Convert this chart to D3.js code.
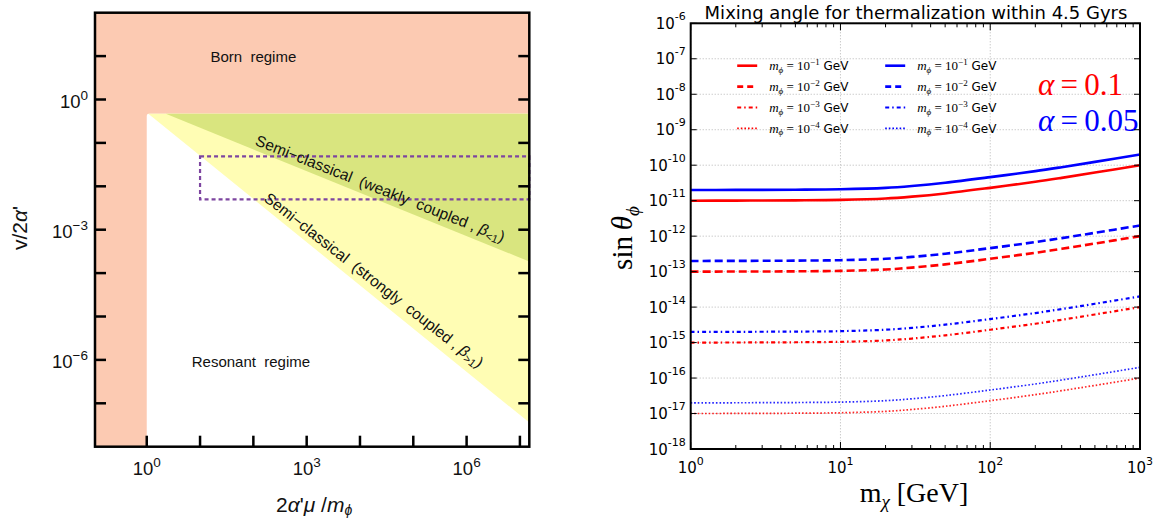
<!DOCTYPE html>
<html>
<head>
<meta charset="utf-8">
<script src="https://cdn.jsdelivr.net/npm/d3@7"></script>
<style>
body { margin: 0; background: #fff; }
text { white-space: pre; }
</style>
</head>
<body>
<svg id="fig" width="1156" height="519"></svg>
<script>
// ---- left panel: regime map ----
var regXDomain = [0.107, 1.5e7];
var regYDomain = [1e-8, 1e2];
var regXTicks = [1, 10, 100, 1e3, 1e4, 1e5, 1e6, 1e7];
var regXLabels = [[1, "0"], [1e3, "3"], [1e6, "6"]];
var regYTicks = [10, 1, 1e-1, 1e-2, 1e-3, 1e-4, 1e-5, 1e-6, 1e-7];
var regYLabels = [[1, "0"], [1e-3, "\u22123"], [1e-6, "\u22126"]];
var bornEdgeX = 1;
var bornEdgeY = 0.468;
var strongEdge = [[1.07, 0.468], [1.5e7, 3.6e-8]];  // beta = 1
var weakEdge = [[2.28, 0.468], [1.5e7, 1.85e-4]];
var boxX = [10, 1.5e7];
var boxY = [0.005, 0.049];
var regNames = [["Born  regime", 100, 9.5], ["Resonant  regime", 90, 9.2e-7]];

// ---- right panel: mixing angle ----
var mChi = [1, 2, 3, 5, 10, 20, 30, 50, 100, 200, 300, 500, 1000];
var mixXTicks = [1, 10, 100, 1000];
var mixYExp = [-6, -7, -8, -9, -10, -11, -12, -13, -14, -15, -16, -17, -18];
var red1 = [1.0e-11, 1.005e-11, 1.01e-11, 1.02e-11, 1.05e-11, 1.15e-11, 1.3e-11, 1.6e-11, 2.3e-11, 3.4e-11, 4.4e-11, 6.2e-11, 1.0e-10];
var red2 = [1.0e-13, 1.005e-13, 1.01e-13, 1.02e-13, 1.05e-13, 1.15e-13, 1.3e-13, 1.6e-13, 2.3e-13, 3.4e-13, 4.4e-13, 6.2e-13, 1.0e-12];
var red3 = [1.0e-15, 1.005e-15, 1.01e-15, 1.02e-15, 1.05e-15, 1.15e-15, 1.3e-15, 1.6e-15, 2.3e-15, 3.4e-15, 4.4e-15, 6.2e-15, 1.0e-14];
var red4 = [1.0e-17, 1.005e-17, 1.01e-17, 1.02e-17, 1.05e-17, 1.15e-17, 1.3e-17, 1.6e-17, 2.3e-17, 3.4e-17, 4.4e-17, 6.2e-17, 1.0e-16];
var blue1 = [2.0e-11, 2.01e-11, 2.02e-11, 2.04e-11, 2.1e-11, 2.3e-11, 2.6e-11, 3.2e-11, 4.6e-11, 6.8e-11, 8.8e-11, 1.24e-10, 2.0e-10];
var blue2 = [2.0e-13, 2.01e-13, 2.02e-13, 2.04e-13, 2.1e-13, 2.3e-13, 2.6e-13, 3.2e-13, 4.6e-13, 6.8e-13, 8.8e-13, 1.24e-12, 2.0e-12];
var blue3 = [2.0e-15, 2.01e-15, 2.02e-15, 2.04e-15, 2.1e-15, 2.3e-15, 2.6e-15, 3.2e-15, 4.6e-15, 6.8e-15, 8.8e-15, 1.24e-14, 2.0e-14];
var blue4 = [2.0e-17, 2.01e-17, 2.02e-17, 2.04e-17, 2.1e-17, 2.3e-17, 2.6e-17, 3.2e-17, 4.6e-17, 6.8e-17, 8.8e-17, 1.24e-16, 2.0e-16];
var mphiExp = ["\u22121", "\u22122", "\u22123", "\u22124"];
var alphas = ["0.1", "0.05"];

var svg = d3.select("#fig");

//==== left panel
var L = {left: 95, right: 529.3, top: 12.7, bottom: 446.7};
var xL = d3.scaleLog().domain(regXDomain).range([L.left, L.right]);
var yL = d3.scaleLog().domain(regYDomain).range([L.bottom, L.top]);
var gL = svg.append("g").attr("font-family", "'Liberation Sans', Arial, sans-serif").attr("fill", "#111");

gL.append("rect")
    .attr("x", L.left).attr("y", L.top)
    .attr("width", L.right - L.left).attr("height", L.bottom - L.top)
    .attr("fill", "#fccab2");
gL.append("rect")
    .attr("x", xL(bornEdgeX)).attr("y", yL(bornEdgeY))
    .attr("width", L.right - xL(bornEdgeX)).attr("height", L.bottom - yL(bornEdgeY))
    .attr("rx", 2).attr("fill", "#fff");

function wedge(edge) {
    var pts = [edge[0], edge[1], [regXDomain[1], bornEdgeY]];
    return pts.map(function(p) { return xL(p[0]) + "," + yL(p[1]); }).join(" ");
}
gL.append("polygon").attr("points", wedge(strongEdge)).attr("fill", "#fffdb4");
gL.append("polygon").attr("points", wedge(weakEdge)).attr("fill", "#d9e57f");

gL.append("rect")
    .attr("x", xL(boxX[0])).attr("y", yL(boxY[1]))
    .attr("width", xL(boxX[1]) - xL(boxX[0])).attr("height", yL(boxY[0]) - yL(boxY[1]))
    .attr("fill", "none").attr("stroke", "#7d45a0")
    .attr("stroke-width", 2.2).attr("stroke-dasharray", "4,3");

regNames.forEach(function(d) {
    gL.append("text")
        .attr("x", xL(d[1])).attr("y", yL(d[2]))
        .attr("text-anchor", "middle").attr("dy", "0.35em")
        .attr("font-size", 15)
        .text(d[0]);
});

// label running along a boundary
function edgeLabel(edge, atX, off, rot, words, sign) {
    var a = [xL(edge[0][0]), yL(edge[0][1])], b = [xL(edge[1][0]), yL(edge[1][1])];
    var px = xL(atX);
    var py = a[1] + (px - a[0]) / (b[0] - a[0]) * (b[1] - a[1]);
    var ang = Math.atan2(b[1] - a[1], b[0] - a[0]) * 180 / Math.PI + rot;
    var t = gL.append("text")
        .attr("transform", "translate(" + px + "," + py + ") rotate(" + ang + ")")
        .attr("y", off).attr("text-anchor", "middle").attr("font-size", 15.5);
    t.append("tspan").text(words);
    t.append("tspan").attr("font-style", "italic").text("\u03b2");
    t.append("tspan").attr("font-size", 11).attr("dy", 3).text(sign);
    t.append("tspan").attr("dy", -3).text(")");
}
edgeLabel(weakEdge, 2.0e4, -6, -0.6, "Semi\u2212classical  (weakly  coupled , ", "<1");
edgeLabel(strongEdge, 1.3e4, -7.5, -1, "Semi\u2212classical  (strongly  coupled , ", ">1");

gL.append("rect")
    .attr("x", L.left).attr("y", L.top)
    .attr("width", L.right - L.left).attr("height", L.bottom - L.top)
    .attr("fill", "none").attr("stroke", "#000").attr("stroke-width", 2.5);

var tk = gL.append("g").attr("stroke", "#000").attr("stroke-width", 2.5);
tk.selectAll(".xt").data(regXTicks).enter().append("line")
    .attr("x1", function(d) { return xL(d); }).attr("x2", function(d) { return xL(d); })
    .attr("y1", L.bottom).attr("y2", L.bottom - 11);
tk.selectAll(".yl").data(regYTicks).enter().append("line")
    .attr("x1", L.left).attr("x2", L.left + 11)
    .attr("y1", function(d) { return yL(d); }).attr("y2", function(d) { return yL(d); });
tk.selectAll(".yr").data(regYTicks).enter().append("line")
    .attr("x1", L.right).attr("x2", L.right - 11)
    .attr("y1", function(d) { return yL(d); }).attr("y2", function(d) { return yL(d); });

regXLabels.forEach(function(d) {
    var t = gL.append("text").attr("x", xL(d[0])).attr("y", L.bottom + 28.5)
        .attr("text-anchor", "middle").attr("font-size", 18.5);
    t.append("tspan").text("10");
    t.append("tspan").attr("dy", -8.5).attr("font-size", 13.5).text(d[1]);
});
regYLabels.forEach(function(d) {
    var t = gL.append("text").attr("x", L.left - 7).attr("y", yL(d[0]) + 8.5)
        .attr("text-anchor", "end").attr("font-size", 18.5);
    t.append("tspan").text("10");
    t.append("tspan").attr("dy", -8.5).attr("font-size", 13.5).text(d[1]);
});

var xt = gL.append("text").attr("x", (L.left + L.right) / 2 + 2).attr("y", 512)
    .attr("text-anchor", "middle").attr("font-size", 21);
xt.append("tspan").text("2");
xt.append("tspan").attr("font-style", "italic").text("\u03b1");
xt.append("tspan").text("'");
xt.append("tspan").attr("font-style", "italic").text("\u03bc");
xt.append("tspan").text(" /");
xt.append("tspan").attr("font-style", "italic").text("m");
xt.append("tspan").attr("font-style", "italic").attr("font-size", 14).attr("dy", 3).text("\u03d5");

var yt = gL.append("text").attr("transform", "translate(27,228) rotate(-90)")
    .attr("text-anchor", "middle").attr("font-size", 21);
yt.append("tspan").text("v/2");
yt.append("tspan").attr("font-style", "italic").text("\u03b1");
yt.append("tspan").text("'");

//==== right panel
var R = {left: 690.7, right: 1140, top: 23.3, bottom: 449};
var xR = d3.scaleLog().domain([1, 1000]).range([R.left, R.right]);
var yR = d3.scaleLog().domain([1e-18, 1e-6]).range([R.bottom, R.top]);
var gR = svg.append("g").attr("font-family", "'DejaVu Sans', sans-serif");
var serif = "'Liberation Serif', 'DejaVu Serif', serif";

var grid = gR.append("g").attr("stroke", "#b5b5b5").attr("stroke-width", 1)
    .attr("stroke-dasharray", "1,2");
grid.selectAll(".gx").data(mixXTicks).enter().append("line")
    .attr("x1", function(d) { return xR(d); }).attr("x2", function(d) { return xR(d); })
    .attr("y1", R.top).attr("y2", R.bottom);
grid.selectAll(".gy").data(mixYExp).enter().append("line")
    .attr("x1", R.left).attr("x2", R.right)
    .attr("y1", function(d) { return yR(Math.pow(10, d)); })
    .attr("y2", function(d) { return yR(Math.pow(10, d)); });

var styles = [
    {w: 2.6, dash: null},
    {w: 2.6, dash: "8,4"},
    {w: 2.2, dash: "4,3,1.5,3"},
    {w: 1.7, dash: "1.6,2"}
];
var series = [
    {v: red1, c: "#ff0000", s: 0}, {v: red2, c: "#ff0000", s: 1},
    {v: red3, c: "#ff0000", s: 2}, {v: red4, c: "#ff0000", s: 3},
    {v: blue1, c: "#0000ff", s: 0}, {v: blue2, c: "#0000ff", s: 1},
    {v: blue3, c: "#0000ff", s: 2}, {v: blue4, c: "#0000ff", s: 3}
];
var line = d3.line()
    .x(function(d, i) { return xR(mChi[i]); })
    .y(function(d) { return yR(d); })
    .curve(d3.curveCatmullRom.alpha(0.5));
gR.selectAll(".curve").data(series).enter().append("path")
    .attr("d", function(d) { return line(d.v); })
    .attr("fill", "none")
    .attr("stroke", function(d) { return d.c; })
    .attr("stroke-width", function(d) { return styles[d.s].w; })
    .attr("stroke-dasharray", function(d) { return styles[d.s].dash; })
    .attr("stroke-opacity", function(d) { return d.s == 3 ? 0.85 : 1; });

// legend, two columns
var legCols = [{c: "#ff0000", x: R.left + 46.5}, {c: "#0000ff", x: R.left + 194.5}];
legCols.forEach(function(col) {
    mphiExp.forEach(function(e, i) {
        var y = 65.7 + i * 20.9;
        var st = styles[i];
        gR.append("line")
            .attr("x1", col.x).attr("x2", col.x + 20).attr("y1", y).attr("y2", y)
            .attr("stroke", col.c).attr("stroke-width", st.w)
            .attr("stroke-dasharray", i == 1 ? "6,4" : st.dash);
        var t = gR.append("text").attr("x", col.x + 32).attr("y", y + 4.5).attr("font-size", 12);
        t.append("tspan").attr("font-family", serif).attr("font-style", "italic").attr("font-size", 13).text("m");
        t.append("tspan").attr("font-family", serif).attr("font-style", "italic")
            .attr("font-size", 9).attr("dy", 2.5).text("\u03d5");
        t.append("tspan").attr("font-family", serif).attr("font-size", 13).attr("dy", -2.5).text(" = 10");
        t.append("tspan").attr("font-family", serif).attr("font-size", 9).attr("dy", -5).text(e);
        t.append("tspan").attr("dy", 5).text(" GeV");
    });
});

alphas.forEach(function(a, i) {
    var t = gR.append("text").attr("x", 1038).attr("y", 95 + i * 35.7)
        .attr("font-family", serif).attr("font-size", 31)
        .attr("fill", i == 0 ? "#ff0000" : "#0000ff");
    t.append("tspan").attr("font-style", "italic").text("\u03b1");
    t.append("tspan").text("\u2009=\u2009" + a);
});

gR.append("rect")
    .attr("x", R.left).attr("y", R.top)
    .attr("width", R.right - R.left).attr("height", R.bottom - R.top)
    .attr("fill", "none").attr("stroke", "#000").attr("stroke-width", 2);

// ticks: minor and major on bottom/top, major on left/right, all inward
var minor = [];
[1, 10, 100].forEach(function(b) { for (var k = 2; k < 10; k++) minor.push(b * k); });
var tr = gR.append("g").attr("stroke", "#000").attr("stroke-width", 1);
[[minor, 4], [mixXTicks, 7]].forEach(function(set) {
    tr.selectAll(null).data(set[0]).enter().append("line")
        .attr("x1", function(d) { return xR(d); }).attr("x2", function(d) { return xR(d); })
        .attr("y1", R.bottom).attr("y2", R.bottom - set[1]);
    tr.selectAll(null).data(set[0]).enter().append("line")
        .attr("x1", function(d) { return xR(d); }).attr("x2", function(d) { return xR(d); })
        .attr("y1", R.top).attr("y2", R.top + set[1]);
});
tr.selectAll(null).data(mixYExp).enter().append("line")
    .attr("x1", R.left).attr("x2", R.left + 6)
    .attr("y1", function(d) { return yR(Math.pow(10, d)); })
    .attr("y2", function(d) { return yR(Math.pow(10, d)); });
tr.selectAll(null).data(mixYExp).enter().append("line")
    .attr("x1", R.right).attr("x2", R.right - 6)
    .attr("y1", function(d) { return yR(Math.pow(10, d)); })
    .attr("y2", function(d) { return yR(Math.pow(10, d)); });

mixXTicks.forEach(function(d, i) {
    var t = gR.append("text").attr("x", xR(d)).attr("y", 472.5)
        .attr("text-anchor", "middle").attr("font-size", 15);
    t.append("tspan").text("10");
    t.append("tspan").attr("dy", -8).attr("font-size", 11).text(String(i));
});
mixYExp.forEach(function(e) {
    var t = gR.append("text").attr("x", R.left - 5).attr("y", yR(Math.pow(10, e)) + 5.5)
        .attr("text-anchor", "end").attr("font-size", 15);
    t.append("tspan").text("10");
    t.append("tspan").attr("dy", -9).attr("font-size", 11).text(String(e));
});

gR.append("text").attr("x", 916).attr("y", 19)
    .attr("text-anchor", "middle").attr("font-size", 18)
    .text("Mixing angle for thermalization within 4.5 Gyrs");

var xr = gR.append("text").attr("x", 914).attr("y", 502)
    .attr("text-anchor", "middle").attr("font-family", serif).attr("font-size", 28);
xr.append("tspan").text("m");
xr.append("tspan").attr("font-style", "italic").attr("font-size", 19).attr("dy", 6).text("\u03c7");
xr.append("tspan").attr("dy", -6).text(" [GeV]");

var yr = gR.append("text").attr("transform", "translate(632,238) rotate(-90)")
    .attr("text-anchor", "middle").attr("font-family", serif).attr("font-size", 29);
yr.append("tspan").text("sin\u2009");
yr.append("tspan").attr("font-style", "italic").text("\u03b8");
yr.append("tspan").attr("font-style", "italic").attr("font-size", 19).attr("dy", 7).text("\u03d5");
</script>
</body>
</html>
